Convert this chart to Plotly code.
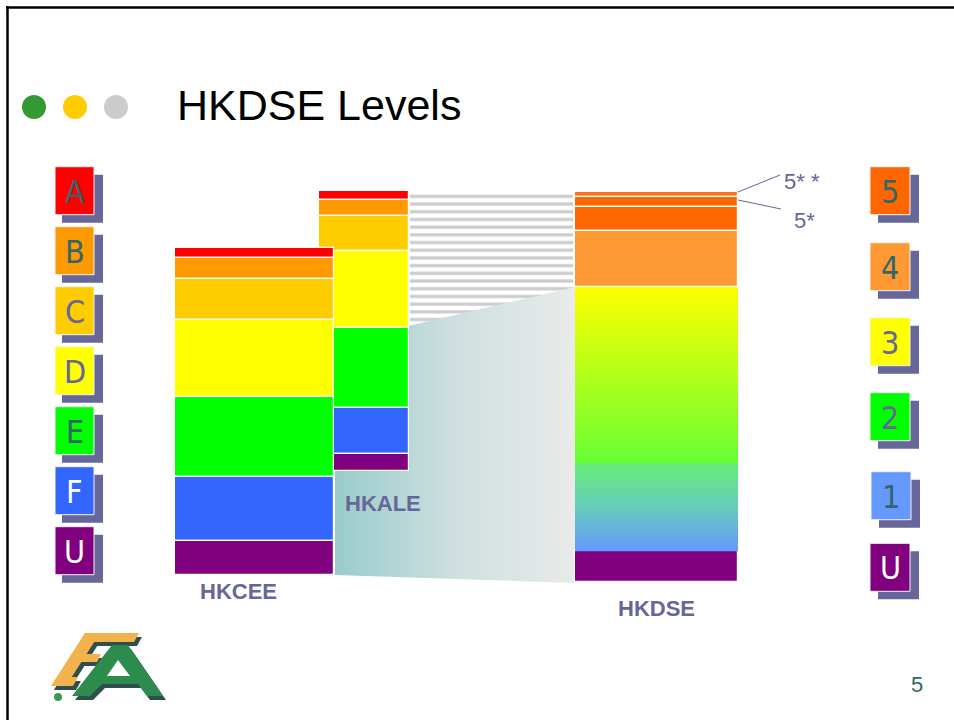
import plotly.graph_objects as go

# ---------------- data ----------------
hkcee_grades = ["A", "B", "C", "D", "E", "F", "U"]
hkcee_bands = [10.8, 20.7, 41.3, 76.5, 79.7, 64.0, 34.8]      # band heights, top to bottom
hkale_grades = ["A", "B", "C", "D", "E", "F", "U"]
hkale_bands = [8.5, 16.8, 34.2, 77.0, 80.7, 45.3, 17.5]
hkdse_levels = ["5**", "5*", "5", "4", "3", "2", "1", "U"]
hkdse_bands = [4.5, 10.8, 23.9, 55.8, 88.0, 88.0, 88.3, 30.7]

left_labels = ["A", "B", "C", "D", "E", "F", "U"]
right_labels = ["5", "4", "3", "2", "1", "U"]
exam_names = ["HKCEE", "HKALE", "HKDSE"]

# ---------------- styles ----------------
grade_colors = {"A": "#FF0000", "B": "#FF9900", "C": "#FFCC00", "D": "#FFFF00",
                "E": "#00FF00", "F": "#3366FF", "U": "#800080"}
dse_colors = {"5**": "#FF6E1A", "5*": "#FF6600", "5": "#FF6600", "4": "#FF9933",
              "U": "#800080"}
dse_gradients = {"3": ["#FFFF00", "#B3FF1A"], "2": ["#B3FF1A", "#66FF33"],
                 "1": ["#66EE77", "#66CCBB", "#6699FF"]}
left_text_colors = ["#336666", "#336666", "#666699", "#666699", "#336666", "white", "white"]
right_box_colors = ["#FF6600", "#FF9933", "#FFFF00", "#00FF00", "#6699FF", "#800080"]
right_text_colors = ["#336666", "#336666", "#666699", "#666699", "#336666", "white"]
NARROW = "Liberation Sans Narrow, Arial Narrow, DejaVu Sans Condensed, sans-serif"
ARIAL = "Liberation Sans, Arial, sans-serif"

# column geometry (pixel-like chart units)
cee_x, cee_bottom = (175, 334), 575.3
ale_x, ale_bottom = (319, 409), 471.0
dse_x, dse_bottom = (575, 738), 582.0


def stack(bands, bottom):
    top = bottom - sum(bands)
    out = []
    for h in bands:
        out.append((top, h))
        top += h
    return out


fig = go.Figure()

# --- background layer (axis 1): striped region and gradient funnel ---
fig.add_trace(go.Bar(x=[491.5], width=[163], base=[191], y=[140],
                     marker=dict(color="white", line=dict(width=0),
                                 pattern=dict(shape="-", fgcolor="#CCCCCC", bgcolor="white",
                                              size=7.7, solidity=0.42, fgopacity=1)),
                     hoverinfo="skip", xaxis="x", yaxis="y"))
fig.add_trace(go.Scatter(x=[335, 575, 575, 335, 335], y=[343, 287, 583, 575, 343],
                         mode="lines", fill="toself", line=dict(width=0, color="rgba(0,0,0,0)"),
                         fillgradient=dict(type="horizontal", start=335, stop=575,
                                           colorscale=[[0, "#99CCCC"], [0.5, "#CFDFDF"], [1, "#EAEAEA"]]),
                         hoverinfo="skip", xaxis="x", yaxis="y"))


# --- foreground layer (axis 2, overlaying): the grade columns ---
def add_column(grades, bands, bottom, xr, colors):
    segs = stack(bands, bottom)
    fig.add_trace(go.Bar(
        x=[(xr[0] + xr[1]) / 2] * len(grades), width=[xr[1] - xr[0]] * len(grades),
        base=[s[0] for s in segs], y=[s[1] for s in segs],
        marker=dict(color=[colors[g] for g in grades], line=dict(color="white", width=1.2)),
        hovertext=grades, hoverinfo="text", xaxis="x2", yaxis="y2"))


add_column(hkale_grades, hkale_bands, ale_bottom, ale_x, grade_colors)
add_column(hkcee_grades, hkcee_bands, cee_bottom, cee_x, grade_colors)

dse_segs = stack(hkdse_bands, dse_bottom)
solid = [i for i, lv in enumerate(hkdse_levels) if lv in dse_colors]
fig.add_trace(go.Bar(
    x=[(dse_x[0] + dse_x[1]) / 2] * len(solid), width=[dse_x[1] - dse_x[0]] * len(solid),
    base=[dse_segs[i][0] for i in solid], y=[dse_segs[i][1] for i in solid],
    marker=dict(color=[dse_colors[hkdse_levels[i]] for i in solid],
                line=dict(color="white", width=1.2)),
    hovertext=[hkdse_levels[i] for i in solid], hoverinfo="text", xaxis="x2", yaxis="y2"))
for i, lv in enumerate(hkdse_levels):
    if lv in dse_gradients:
        t, h = dse_segs[i]
        cols = dse_gradients[lv]
        cs = [[k / (len(cols) - 1), c] for k, c in enumerate(cols)]
        fig.add_trace(go.Scatter(
            x=[dse_x[0], dse_x[1], dse_x[1], dse_x[0], dse_x[0]],
            y=[t, t, t + h, t + h, t], mode="lines", fill="toself",
            line=dict(width=0, color="rgba(0,0,0,0)"),
            fillgradient=dict(type="vertical", start=t, stop=t + h, colorscale=cs),
            hovertext=lv, hoverinfo="text", xaxis="x2", yaxis="y2"))

shapes = []
annotations = []

# slide frame
shapes.append(dict(type="line", x0=6, y0=7.5, x1=960, y1=7.5, line=dict(color="black", width=2.5)))
shapes.append(dict(type="line", x0=7.5, y0=6, x1=7.5, y1=725, line=dict(color="black", width=2.5)))

# title dots
for cx, col in zip([34, 75, 116], ["#339933", "#FFCC00", "#CCCCCC"]):
    shapes.append(dict(type="circle", x0=cx - 12, x1=cx + 12, y0=95, y1=119,
                       fillcolor=col, line=dict(width=0)))
annotations.append(dict(x=175, y=105, text="HKDSE Levels", showarrow=False, xanchor="left",
                        yanchor="middle", font=dict(family=ARIAL, size=43, color="black")))

# left legend boxes
for i, (lab, tc) in enumerate(zip(left_labels, left_text_colors)):
    y0 = 166.7 + 60 * i
    shapes.append(dict(type="rect", x0=62, x1=103, y0=y0 + 8, y1=y0 + 56,
                       fillcolor="#666699", line=dict(width=0)))
    shapes.append(dict(type="rect", x0=55, x1=94, y0=y0, y1=y0 + 48,
                       fillcolor=grade_colors[lab], line=dict(color="#F4F4F4", width=1)))
    annotations.append(dict(x=74.5, y=y0 + 25, text=lab, showarrow=False,
                            font=dict(family=NARROW, size=32, color=tc)))

# right legend boxes
right_y = [166.7, 242.7, 317.7, 392.7, 471.7, 543.3]
right_x = [870, 870, 870, 870, 871, 870]
for lab, y0, x0, bc, tc in zip(right_labels, right_y, right_x, right_box_colors, right_text_colors):
    shapes.append(dict(type="rect", x0=x0 + 8, x1=x0 + 49, y0=y0 + 8, y1=y0 + 56,
                       fillcolor="#666699", line=dict(width=0)))
    shapes.append(dict(type="rect", x0=x0, x1=x0 + 40, y0=y0, y1=y0 + 48,
                       fillcolor=bc, line=dict(color="#F4F4F4", width=1)))
    annotations.append(dict(x=x0 + 20, y=y0 + 25, text=lab, showarrow=False,
                            font=dict(family=NARROW, size=32, color=tc)))

# 5** / 5* callouts
shapes.append(dict(type="line", x0=738, y0=192, x1=780, y1=175, line=dict(color="#666699", width=1)))
shapes.append(dict(type="line", x0=738, y0=200, x1=781, y1=209, line=dict(color="#666699", width=1)))
annotations.append(dict(x=782, y=181, text="5* *", showarrow=False, xanchor="left",
                        font=dict(family=ARIAL, size=22, color="#666699")))
annotations.append(dict(x=792, y=220, text="5*", showarrow=False, xanchor="left",
                        font=dict(family=ARIAL, size=22, color="#666699")))

# exam labels
for name, (x, y) in zip(exam_names, [(238, 591), (383, 503), (656, 608)]):
    annotations.append(dict(x=x, y=y, text="<b>%s</b>" % name, showarrow=False,
                            font=dict(family=ARIAL, size=22, color="#666699")))

# page number
annotations.append(dict(x=917, y=684, text="5", showarrow=False,
                        font=dict(family=ARIAL, size=22, color="#336666")))


# logo (EA)
def shift(path, dx, dy):
    out = []
    for tok in path.split(" "):
        if "," in tok:
            a, b = tok.split(",")
            out.append("%g,%g" % (float(a) + dx, float(b) + dy))
        else:
            out.append(tok)
    return " ".join(out)


dark = "#2F4F4F"
E_parts = [
    "M 85,633 L 139,633 L 134,642 L 80,642 Z",
    "M 85,633 L 100,633 L 66,686 L 51,686 Z",
    "M 72,654 L 101,654 L 97,662 L 67,662 Z",
    "M 57,677 L 78,677 L 73,686 L 51,686 Z",
]
for p in E_parts:
    shapes.append(dict(type="path", path=shift(p, 3, 4), fillcolor=dark, line=dict(width=0)))
for p in E_parts:
    shapes.append(dict(type="path", path=p, fillcolor="#F2B24C", line=dict(width=0)))
A_path = "M 112,645 L 128,645 L 163,696 L 147,696 L 138,684 L 102,684 L 90,696 L 72,696 Z"
shapes.append(dict(type="path", path=shift(A_path, 3, 4), fillcolor=dark, line=dict(width=0)))
shapes.append(dict(type="path", path=A_path, fillcolor="#2E8B4E", line=dict(width=0)))
shapes.append(dict(type="path", path="M 118,660 L 130,676 L 107,676 Z", fillcolor="white",
                   line=dict(width=0)))
shapes.append(dict(type="circle", x0=54, x1=62, y0=693, y1=701, fillcolor="#3C9A50",
                   line=dict(width=0)))

fig.update_layout(
    width=954, height=720, margin=dict(l=0, r=0, t=0, b=0),
    paper_bgcolor="white", plot_bgcolor="white", showlegend=False,
    barmode="overlay", bargap=0,
    xaxis=dict(range=[0, 954], visible=False, fixedrange=True),
    yaxis=dict(range=[720, 0], visible=False, fixedrange=True),
    xaxis2=dict(range=[0, 954], visible=False, fixedrange=True, overlaying="x"),
    yaxis2=dict(range=[720, 0], visible=False, fixedrange=True, overlaying="y"),
    shapes=shapes, annotations=annotations,
)
fig.write_html("out.html", config={"displayModeBar": False},
               post_script="document.body.style.margin='0';document.body.style.overflow='hidden';")
